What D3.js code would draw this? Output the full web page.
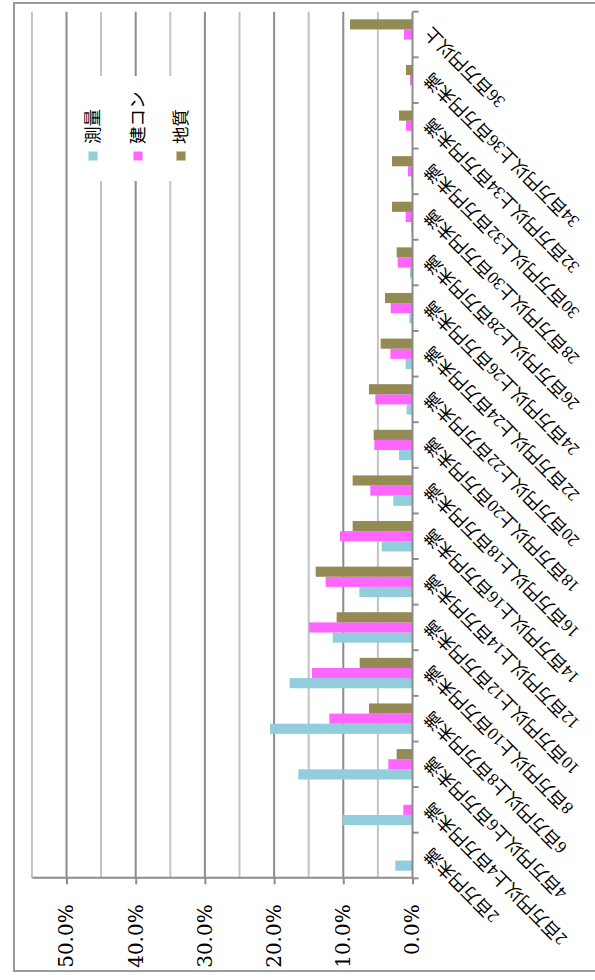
<!DOCTYPE html>
<html><head><meta charset="utf-8">
<script src="https://cdn.jsdelivr.net/npm/d3@7"></script>
<style>html,body{margin:0;padding:0;background:#fff;}svg{display:block;}</style>
</head><body>
<svg id="chart" width="595" height="980"></svg>
<script>
const categories = [
  "2百万円未満",
  "2百万円以上4百万円未満",
  "4百万円以上6百万円未満",
  "6百万円以上8百万円未満",
  "8百万円以上10百万円未満",
  "10百万円以上12百万円未満",
  "12百万円以上14百万円未満",
  "14百万円以上16百万円未満",
  "16百万円以上18百万円未満",
  "18百万円以上20百万円未満",
  "20百万円以上22百万円未満",
  "22百万円以上24百万円未満",
  "24百万円以上26百万円未満",
  "26百万円以上28百万円未満",
  "28百万円以上30百万円未満",
  "30百万円以上32百万円未満",
  "32百万円以上34百万円未満",
  "34百万円以上36百万円未満",
  "36百万円以上"
];
const seriesNames = ["測量", "建コン", "地質"];
const survey    = [2.48, 10.04, 16.5, 20.59, 17.75, 11.54, 7.68, 4.45, 2.77, 1.95, 0.84, 0.99, 0.46, 0.36, 0.2, 0.2, 0.15, 0, 0];
const kencon    = [0, 1.33, 3.49, 12.02, 14.52, 14.96, 12.55, 10.48, 6.1, 5.51, 5.37, 3.2, 3.15, 2.14, 0.98, 0.65, 0.94, 0.36, 1.23];
const chishitsu = [0, 0, 2.29, 6.29, 7.63, 10.96, 13.99, 8.65, 8.65, 5.61, 6.29, 4.6, 3.97, 2.29, 2.96, 2.96, 1.95, 0.94, 9.03];
const tickValues = [0, 0.1, 0.2, 0.3, 0.4, 0.5];

const seriesValues = [survey, kencon, chishitsu];
const colors = ["#92CDDC", "#FF66FF", "#948A54"];

const svg = d3.select("#chart");
// whole chart drawn in a local frame then rotated (local width 980, height 595)
const g = svg.append("g").attr("transform", "translate(0,980) rotate(-90)");

const X0 = 101.7, X1 = 968.3, Y0 = 412.5, Y1 = 31.9;
const x = d3.scaleBand().domain(categories).range([X0, X1]).paddingInner(0).paddingOuter(0);
const x1 = d3.scaleBand().domain(seriesNames).range([0, x.bandwidth()]).paddingInner(0).paddingOuter(0.75);
const y = d3.scaleLinear().domain([0, 0.55]).range([Y0, Y1]);

// outer border
g.append("rect").attr("x", 9).attr("y", 14).attr("width", 968).attr("height", 640)
  .attr("fill", "none").attr("stroke", "#9a9a9a").attr("stroke-width", 2);

// gridlines every 5%
const grid = d3.range(1, 12).map(i => ({v: i * 0.05, major: i % 2 === 0}));
g.append("g").selectAll("line").data(grid).join("line")
  .attr("x1", X0).attr("x2", X1)
  .attr("y1", d => y(d.v)).attr("y2", d => y(d.v))
  .attr("stroke", d => d.major ? "#8c8c8c" : "#c3c3c3")
  .attr("stroke-width", 2);

// legend background
const legend = g.append("g");
legend.append("rect").attr("x", 799).attr("y", 76).attr("width", 105).attr("height", 116).attr("fill", "#fff");

// bars
const rows = categories.map((c, i) => ({cat: c, vals: seriesNames.map((s, j) => ({s, j, v: seriesValues[j][i] / 100}))}));
g.append("g").selectAll("g").data(rows).join("g")
  .attr("transform", d => `translate(${x(d.cat)},0)`)
  .selectAll("rect").data(d => d.vals).join("rect")
  .attr("x", d => x1(d.s))
  .attr("width", x1.bandwidth())
  .attr("y", d => y(d.v))
  .attr("height", d => y(0) - y(d.v))
  .attr("fill", d => colors[d.j]);

// value axis
const yAxis = g.append("g").attr("transform", `translate(${X0},0)`)
  .call(d3.axisLeft(y).tickValues(tickValues).tickFormat(d3.format(".1%")).tickSize(6).tickSizeOuter(0).tickPadding(20));
yAxis.select(".domain").attr("stroke", "#8c8c8c").attr("stroke-width", 2);
yAxis.selectAll(".tick line").attr("stroke", "#8c8c8c").attr("stroke-width", 2);
yAxis.selectAll(".tick text").attr("font-family", "DejaVu Serif").attr("font-size", 20).attr("fill", "#000");

// category axis
const cAxis = g.append("g");
cAxis.append("line").attr("x1", X0).attr("x2", X1).attr("y1", Y0).attr("y2", Y0)
  .attr("stroke", "#8c8c8c").attr("stroke-width", 2);
const bounds = categories.map(c => x(c)).concat([X1]);
cAxis.selectAll("line.t").data(bounds).join("line").attr("class", "t")
  .attr("x1", d => d).attr("x2", d => d).attr("y1", Y0).attr("y2", Y0 + 6)
  .attr("stroke", "#8c8c8c").attr("stroke-width", 2);
cAxis.selectAll("text").data(categories).join("text")
  .attr("transform", d => `translate(${x(d) + x.bandwidth() / 2 + 4},${Y0 + 15}) rotate(-45)`)
  .attr("text-anchor", "end").attr("dy", "0.35em")
  .attr("font-family", "'Liberation Serif','Noto Sans CJK JP'").attr("font-size", 17.5)
  .attr("fill", "#000").text(d => d);

// legend items
const items = legend.selectAll("g.item").data(seriesNames).join("g").attr("class", "item")
  .attr("transform", (d, i) => `translate(824,${[93, 138, 181][i]})`);
items.append("rect").attr("x", -4.5).attr("y", -4.5).attr("width", 9).attr("height", 9)
  .attr("fill", (d, i) => colors[i]);
items.append("text").attr("x", 12).attr("dy", "0.35em")
  .attr("font-family", "'Noto Sans CJK JP'").attr("font-size", 17.5).attr("fill", "#000")
  .text(d => d);
</script>
</body></html>
